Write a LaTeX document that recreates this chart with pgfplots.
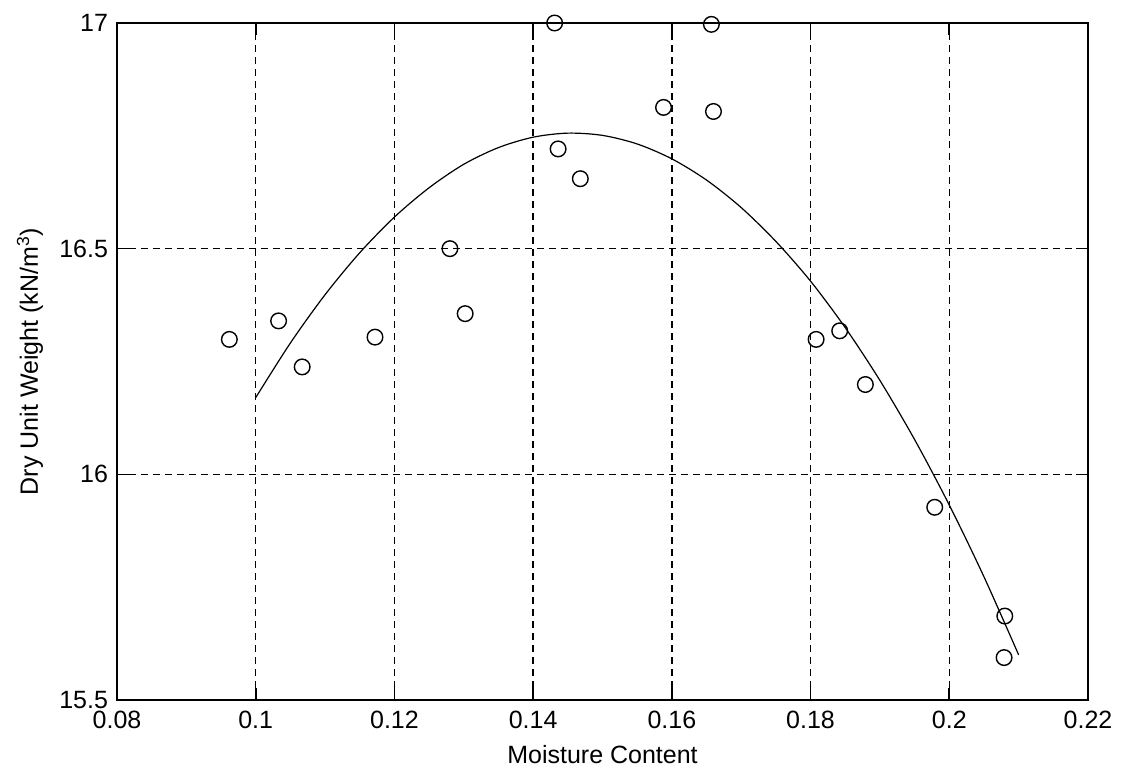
\documentclass[border=0pt]{standalone}
\usepackage{fontspec}
\setmainfont{Liberation Sans}
\usepackage{pgfplots}
\pgfplotsset{compat=1.18}

\begin{document}
\begin{tikzpicture}[font=\fontsize{12.5}{15}\selectfont]
\useasboundingbox (-58.5pt,-36.5pt) rectangle (504pt,350pt);
\begin{axis}[
    at={(0,0)}, anchor=south west,
    scale only axis,
    width=485.5pt, height=338.5pt,
    xmin=0.08, xmax=0.22,
    ymin=15.5, ymax=17,
    xtick={0.08,0.1,0.12,0.14,0.16,0.18,0.2,0.22},
    xticklabels={0.08,0.1,0.12,0.14,0.16,0.18,0.2,0.22},
    ytick={15.5,16,16.5,17},
    yticklabels={15.5,16,16.5,17},
    tick align=inside,
    major tick length=6pt,
    tick style={black, line width=0.8pt},
    grid=major,
    major grid style={black, line width=0.7pt, dash pattern=on 3.5pt off 2.5pt},
    axis line style={black, line width=1pt},
    xticklabel style={yshift=-2pt},
    yticklabel style={xshift=-1pt},
    xlabel={Moisture Content},
    ylabel={Dry Unit Weight (kN/m\textsuperscript{3})},
    xlabel style={at={(axis description cs:0.5,-0.081)}, anchor=center},
    ylabel style={at={(axis description cs:-0.0896,0.5)}, anchor=center},
]
% measured points
\addplot[only marks, mark=o, mark size=3.9pt, mark options={line width=0.7pt}, black] coordinates {
    (0.0962,16.299) (0.1033,16.340) (0.1067,16.238) (0.1172,16.304)
    (0.1280,16.500) (0.1302,16.356) (0.1431,17.000) (0.1436,16.721)
    (0.1468,16.655) (0.1588,16.813) (0.1657,16.997) (0.1660,16.804)
    (0.1808,16.299) (0.1842,16.318) (0.1879,16.199) (0.1979,15.927)
    (0.2080,15.686) (0.2079,15.594)
};
% fitted curve
\addplot[black, line width=0.6pt, smooth] coordinates {
    (0.100,16.170) (0.105,16.291) (0.110,16.398) (0.115,16.491)
    (0.120,16.570) (0.125,16.635) (0.130,16.687) (0.135,16.724)
    (0.140,16.747) (0.145,16.756) (0.150,16.751) (0.155,16.732)
    (0.160,16.699) (0.165,16.652) (0.170,16.591) (0.175,16.516)
    (0.180,16.428) (0.185,16.325) (0.190,16.208) (0.195,16.077)
    (0.200,15.932) (0.205,15.773) (0.210,15.600)
};
\end{axis}
\end{tikzpicture}
\end{document}
